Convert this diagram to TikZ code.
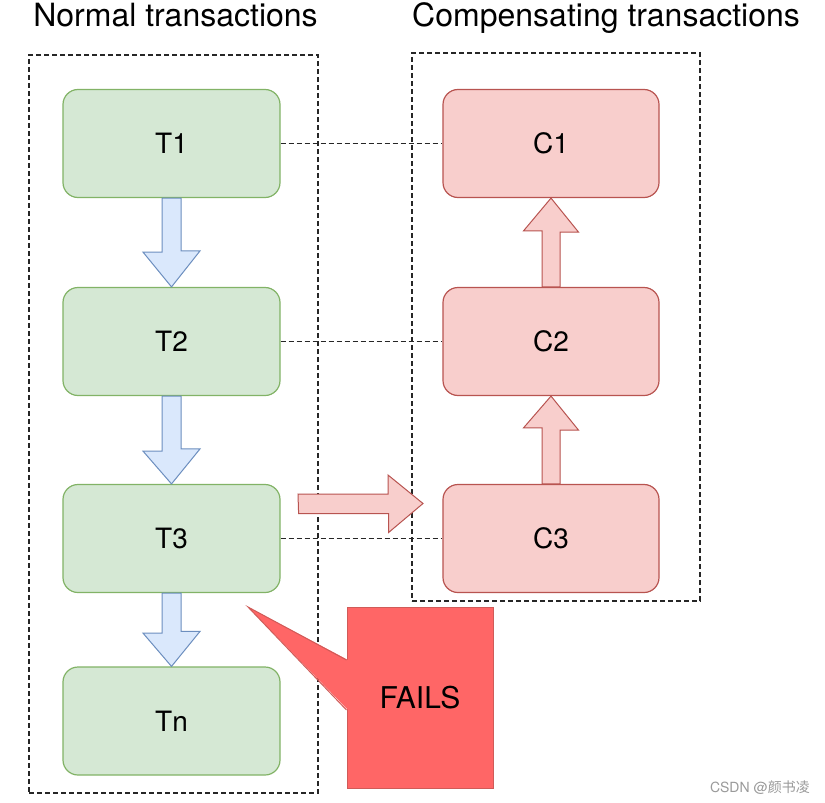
\documentclass[tikz,border=0pt]{standalone}
\usepackage{fontspec}
\setmainfont{TeX Gyre Heros}
\newfontfamily\cjkfont{Noto Sans CJK SC}
\usetikzlibrary{calc}
\definecolor{gfill}{HTML}{D5E8D4}
\definecolor{gdraw}{HTML}{82B366}
\definecolor{rfill}{HTML}{F8CECC}
\definecolor{rdraw}{HTML}{B85450}
\definecolor{bfill}{HTML}{DAE8FC}
\definecolor{bdraw}{HTML}{6C8EBF}
\definecolor{ffill}{HTML}{FF6666}
\definecolor{fdraw}{HTML}{D05B58}
\definecolor{wmark}{HTML}{9A9A9A}
\tikzset{
  tbox/.style={draw=gdraw,fill=gfill,line width=1.2pt,rounded corners=15pt,minimum width=217pt,minimum height=108pt,inner sep=0pt,font=\fontsize{28}{32}\selectfont},
  cbox/.style={draw=rdraw,fill=rfill,line width=1.2pt,rounded corners=15pt,minimum width=216pt,minimum height=108pt,inner sep=0pt,font=\fontsize{28}{32}\selectfont},
  container/.style={draw=black!85,line width=1.2pt,dash pattern=on 5pt off 3pt,inner sep=0pt},
  link/.style={draw=black!85,line width=1.2pt,dash pattern=on 5pt off 3pt},
  title/.style={font=\fontsize{32}{38}\selectfont,anchor=base,inner sep=0pt},
  bluearrow/.style={draw=bdraw,fill=bfill,line width=1pt,line join=miter},
  redarrow/.style={draw=rdraw,fill=rfill,line width=1pt,line join=miter},
}
\begin{document}
\begin{tikzpicture}[x=1pt,y=-1pt]
\useasboundingbox (0,0) rectangle (825,803);
\fill[white] (0,0) rectangle (825,803);
% titles
\node[title] (tleft) at (175.5,27) {Normal transactions};
\node[title] (tright) at (606,27) {Compensating transactions};
% containers
\node[container,minimum width=289pt,minimum height=738pt] (leftbox) at (173.5,424) {};
\node[container,minimum width=288pt,minimum height=548pt] (rightbox) at (556,327) {};
% transaction nodes
\node[tbox] (T1) at (171.5,143.5) {T1};
\node[tbox] (T2) at (171.5,341.5) {T2};
\node[tbox] (T3) at (171.5,538.5) {T3};
\node[tbox] (Tn) at (171.5,721) {Tn};
\node[cbox] (C1) at (551,143.5) {C1};
\node[cbox] (C2) at (551,341.5) {C2};
\node[cbox] (C3) at (551,538.5) {C3};
% dashed links
\draw[link] (T1.east) -- (C1.west);
\draw[link] (T2.east) -- (C2.west);
\draw[link] (T3.east) -- (C3.west);
% blue down arrows
\draw[bluearrow] ($(T1.south)+(-9.5,0)$) -- ++(0,54) -- ++(-19,0) -- (T2.north) -- ++(28.5,-36) -- ++(-19,0) -- ($(T1.south)+(9.5,0)$) -- cycle;
\draw[bluearrow] ($(T2.south)+(-9.5,0)$) -- ++(0,55) -- ++(-19,0) -- (T3.north) -- ++(28.5,-35) -- ++(-19,0) -- ($(T2.south)+(9.5,0)$) -- cycle;
\draw[bluearrow] ($(T3.south)+(-9.5,0)$) -- ++(0,40) -- ++(-19,0) -- (Tn.north) -- ++(28.5,-35) -- ++(-19,0) -- ($(T3.south)+(9.5,0)$) -- cycle;
% red up arrows
\draw[redarrow] ($(C2.north)+(-9,0)$) -- ++(0,-56) -- ++(-18.5,0) -- (C1.south) -- ++(27.5,34) -- ++(-18.5,0) -- ($(C2.north)+(9,0)$) -- cycle;
\draw[redarrow] ($(C3.north)+(-9,0)$) -- ++(0,-56) -- ++(-18.5,0) -- (C2.south) -- ++(27.5,34) -- ++(-18.5,0) -- ($(C3.north)+(9,0)$) -- cycle;
% red right arrow from T3 towards C3
\coordinate (rtip) at (423,503.5);
\draw[redarrow] ($(T3.east)+(18,-25)$) -- ++(90,0) -- ++(0,19) -- (rtip) -- ++(-35,-28.5) -- ++(0,19) -- ++(-90,0) -- cycle;
% FAILS callout
\node[draw=fdraw,fill=ffill,line width=1pt,minimum width=146pt,minimum height=181pt,inner sep=0pt,font=\fontsize{30}{34}\selectfont] (fails) at (420,697.5) {FAILS};
\coordinate (ftip) at (248,607);
\fill[ffill] ($(fails.west)+(1.5,-37.5)$) -- (ftip) -- ($(fails.west)+(1.5,12.5)$) -- cycle;
\draw[fdraw,line width=1pt,line join=miter] ($(fails.west)+(0,-37.5)$) -- (ftip) -- ($(fails.west)+(0,12.5)$);
% watermark
\node[anchor=base east,inner sep=0pt,text=wmark,font=\fontsize{14}{16}\selectfont] (wm) at (810,792) {CSDN @{\cjkfont 颜书凌}};
\end{tikzpicture}
\end{document}
